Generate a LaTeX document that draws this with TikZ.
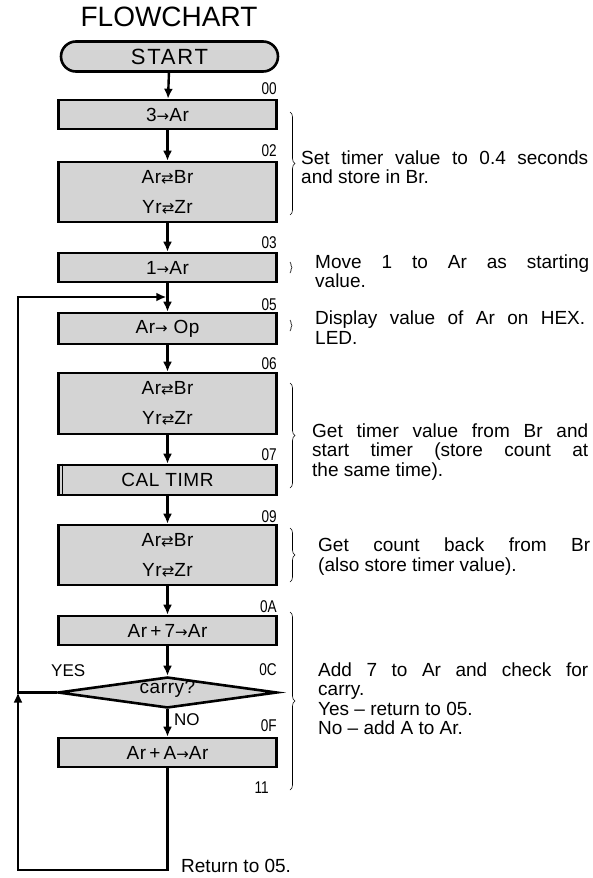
\documentclass[tikz,border=0pt]{standalone}
\usepackage{fontspec}
\setmainfont{Liberation Sans}
\newfontfamily\symf{DejaVu Sans}
\usetikzlibrary{shapes.geometric,arrows.meta,decorations.pathreplacing}
\newcommand{\ra}{{\symf\fontsize{15}{15}\selectfont →}}
\newcommand{\xch}{{\symf\fontsize{15}{15}\selectfont ⇄}}
\begin{document}
\begin{tikzpicture}[x=1pt,y=-1pt,
  box/.style={draw, line width=2.6pt, fill=black!17, minimum width=218pt, inner sep=0pt,
    align=center, font=\fontsize{19}{30}\selectfont\addfontfeature{LetterSpace=3}},
  num/.style={anchor=east, inner sep=0pt, font=\fontsize{17}{17}\selectfont},
  note/.style={anchor=west, inner sep=0pt, align=left, font=\fontsize{19}{19.5}\selectfont},
  wire/.style={line width=2.4pt},
  flow/.style={line width=2.4pt, -{Latex[length=10pt,width=9pt]}},
  brc/.style={decorate, decoration={brace, amplitude=5pt}, line width=0.6pt},
]
\useasboundingbox (0,0) rectangle (593,878);
\fill[white] (0,0) rectangle (593,878);

\node[font=\fontsize{28}{28}\selectfont] (title) at (169,17) {FLOWCHART};
\node[box, rounded corners=15pt, minimum width=217pt, minimum height=30pt,
  font=\fontsize{22}{22}\selectfont\addfontfeature{LetterSpace=8}] (start) at (169.5,56.5) {START};

\node[box, minimum height=29pt] (b00) at (167.5,114.5) {3\ra Ar};
\node[box, minimum height=60pt] (b02) at (167.5,192) {Ar\xch Br\\Yr\xch Zr};
\node[box, minimum height=29pt] (b03) at (167.5,267.5) {1\ra Ar};
\node[box, minimum height=31pt] (b05) at (167.5,328.5) {Ar\ra\ Op};
\node[box, minimum height=61pt] (b06) at (167.5,403.5) {Ar\xch Br\\Yr\xch Zr};
\node[box, minimum height=30pt] (b07) at (167.5,480) {CAL TIMR};
\node[box, minimum height=60pt] (b09) at (167.5,555) {Ar\xch Br\\Yr\xch Zr};
\node[box, minimum height=29pt] (b0A) at (167.5,630.5) {Ar\,+\,7\ra Ar};
\node[diamond, draw, line width=2.6pt, fill=black!17, minimum width=219pt, minimum height=31pt,
  inner sep=0pt] (dec) at (167.5,692.5) {};
\node[inner sep=0pt, font=\fontsize{19}{19}\selectfont\addfontfeature{LetterSpace=3}] (dect) at (167.5,689) {carry?};
\node[box, minimum height=29pt] (b0F) at (167.5,752.5) {Ar\,+\,A\ra Ar};

\draw[line width=1pt] ([xshift=5pt]b07.north west) -- ([xshift=5pt]b07.south west);

% address labels
\node[num] (n00) at (277,89) {\scalebox{0.8}[1]{00}};
\node[num] (n02) at (277,151) {\scalebox{0.8}[1]{02}};
\node[num] (n03) at (277,243) {\scalebox{0.8}[1]{03}};
\node[num] (n05) at (277,305) {\scalebox{0.8}[1]{05}};
\node[num] (n06) at (277,364) {\scalebox{0.8}[1]{06}};
\node[num] (n07) at (277,455) {\scalebox{0.8}[1]{07}};
\node[num] (n09) at (277,517) {\scalebox{0.8}[1]{09}};
\node[num] (n0A) at (277,607) {\scalebox{0.8}[1]{0A}};
\node[num] (n0C) at (277,670) {\scalebox{0.8}[1]{0C}};
\node[num] (n0F) at (277,726) {\scalebox{0.8}[1]{0F}};
\node[num] (n11) at (269,788) {\scalebox{0.8}[1]{11}};
\node[anchor=west, inner sep=0pt, font=\fontsize{17}{17}\selectfont] (yes) at (51,671) {YES};
\node[anchor=west, inner sep=0pt, font=\fontsize{17}{17}\selectfont] (no) at (174,720) {NO};

% main flow
\draw[flow] (start) -- (b00);
\draw[flow] (b00) -- (b02);
\draw[flow] (b02) -- (b03);
\draw[flow] (b03) -- (b05);
\draw[flow] (b05) -- (b06);
\draw[flow] (b06) -- (b07);
\draw[flow] (b07) -- (b09);
\draw[flow] (b09) -- (b0A);
\draw[flow] (b0A) -- (dec);
\draw[flow] (dec) -- (b0F);

% loop back
\coordinate (lb) at (18,870);
\coordinate (lj) at (18,692.5);
\coordinate (lt) at (18,297);
\coordinate (mj) at (166.3,297);
\draw[flow] (b0F.south) |- (lb) -- (lj);
\draw[wire] (dec.west) -- (lj) -- (lt);
\draw[flow] ([xshift=-1.2pt]lt) -- (mj);
\node[anchor=west, inner sep=0pt, font=\fontsize{19}{20}\selectfont] (ret) at (181,866) {Return to 05.};

% braces
\draw[brc] (290,112) -- (290,215);
\draw[brc, decoration={brace, amplitude=2pt}] (290,262) -- (290,273);
\draw[brc, decoration={brace, amplitude=2pt}] (290,320) -- (290,331);
\draw[brc] (290,383) -- (290,488);
\draw[brc] (290,528) -- (290,582);
\draw[brc] (290,612) -- (290,790);

% notes
\node[note] (t1) at (301,167) {\makebox[287pt][s]{Set timer value to 0.4 seconds}\\and store in Br.};
\node[note, font=\fontsize{19}{18.5}\selectfont] (t2) at (315,271) {\makebox[274pt][s]{Move 1 to Ar as starting}\\value.};
\node[note] (t3) at (315,327.5) {\makebox[270pt][s]{Display value of Ar on HEX.}\\LED.};
\node[note] (t4) at (312,452) {\makebox[276pt][s]{Get timer value from Br and}\\\makebox[276pt][s]{start timer (store count at}\\the same time).};
\node[note] (t5) at (318,556.5) {\makebox[272pt][s]{Get count back from Br}\\(also store timer value).};
\node[note] (t6) at (318,698.5) {\makebox[270pt][s]{Add 7 to Ar and check for}\\carry.\\Yes -- return to 05.\\No -- add A to Ar.};
\end{tikzpicture}
\end{document}
